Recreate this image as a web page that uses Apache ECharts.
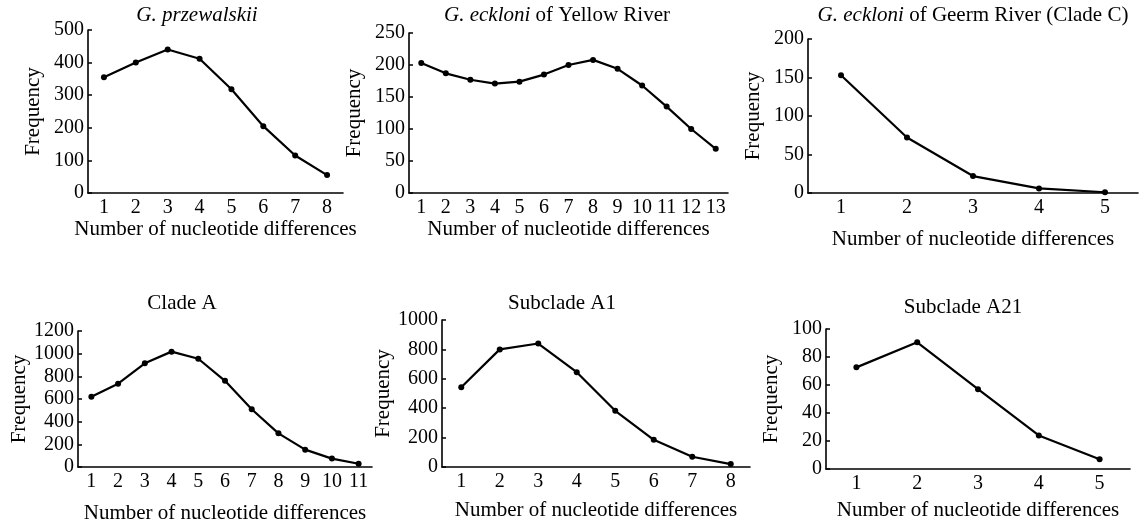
<!DOCTYPE html>
<html>
<head>
<meta charset="utf-8">
<script src="https://cdn.jsdelivr.net/npm/echarts@6/dist/echarts.min.js"></script>
<style>html,body{margin:0;padding:0;background:#fff}#c{width:1139px;height:528px}</style>
</head>
<body>
<div id="c"></div>
<script>
// ---- data ----
const cats1 = ['1','2','3','4','5','6','7','8'];
const vals1 = [355, 400, 440, 412, 318, 205, 115, 55];
const cats2 = ['1','2','3','4','5','6','7','8','9','10','11','12','13'];
const vals2 = [203, 187, 177, 171, 174, 185, 200, 208, 194, 168, 135, 100, 69];
const cats3 = ['1','2','3','4','5'];
const vals3 = [153, 72, 22, 6, 1];
const cats4 = ['1','2','3','4','5','6','7','8','9','10','11'];
const vals4 = [620, 735, 915, 1018, 955, 760, 510, 297, 153, 74, 29];
const cats5 = ['1','2','3','4','5','6','7','8'];
const vals5 = [543, 800, 840, 645, 382, 185, 70, 20];
const cats6 = ['1','2','3','4','5'];
const vals6 = [72.6, 90.5, 57, 24, 7];
const yMax = [500, 250, 200, 1200, 1000, 100];
const yStep = [100, 50, 50, 200, 200, 20];
const xName = 'Number of nucleotide differences';
const yName = 'Frequency';

const FONT = '"Liberation Serif", "Times New Roman", serif';
const panels = [
  {cats: cats1, vals: vals1, grid: {left: 88, top: 30, width: 255, height: 163}, xGap: 26},
  {cats: cats2, vals: vals2, grid: {left: 409, top: 33, width: 319, height: 160}, xGap: 26},
  {cats: cats3, vals: vals3, grid: {left: 808, top: 39, width: 330, height: 154}, xGap: 36},
  {cats: cats4, vals: vals4, grid: {left: 78, top: 331, width: 294, height: 136}, xGap: 36},
  {cats: cats5, vals: vals5, grid: {left: 442, top: 320, width: 308, height: 147}, xGap: 33},
  {cats: cats6, vals: vals6, grid: {left: 826, top: 329, width: 304, height: 140}, xGap: 31}
];
const titles = [
  {text: '{i|G. przewalskii}', left: 197, top: 5},
  {text: '{i|G. eckloni} of Yellow River', left: 557, top: 5},
  {text: '{i|G. eckloni} of Geerm River (Clade C)', left: 973, top: 5},
  {text: 'Clade A', left: 182, top: 293},
  {text: 'Subclade A1', left: 562, top: 293},
  {text: 'Subclade A21', left: 963, top: 297}
];

const axisLineStyle = {color: '#000', width: 1.6};
const option = {
  backgroundColor: '#fff',
  animation: false,
  title: titles.map(t => ({
    text: t.text, left: t.left, top: t.top, textAlign: 'center', padding: 0,
    textStyle: {fontFamily: FONT, fontSize: 21, fontWeight: 'normal', color: '#000',
      rich: {i: {fontFamily: FONT, fontSize: 21, fontStyle: 'italic', color: '#000'}}}
  })),
  grid: panels.map(p => Object.assign({containLabel: false}, p.grid)),
  xAxis: panels.map((p, i) => ({
    type: 'category', gridIndex: i, data: p.cats, boundaryGap: true,
    name: xName, nameLocation: 'middle', nameGap: p.xGap,
    nameTextStyle: {fontFamily: FONT, fontSize: 21, color: '#000'},
    axisLine: {lineStyle: axisLineStyle},
    axisTick: {inside: true, length: 4, lineStyle: {color: '#000', width: 1.5}},
    axisLabel: {interval: 0, margin: 5, fontFamily: FONT, fontSize: 20, color: '#000'},
    splitLine: {show: false}
  })),
  yAxis: panels.map((p, i) => ({
    type: 'value', gridIndex: i, min: 0, max: yMax[i], interval: yStep[i],
    name: yName, nameLocation: 'middle', nameGap: 44,
    nameTextStyle: {fontFamily: FONT, fontSize: 21, color: '#000'},
    axisLine: {show: true, lineStyle: axisLineStyle},
    axisTick: {show: true, inside: true, length: 4, lineStyle: {color: '#000', width: 1.5}},
    axisLabel: {margin: 4, fontFamily: FONT, fontSize: 20, color: '#000',
      formatter: v => String(v)},
    splitLine: {show: false}
  })),
  series: panels.map((p, i) => ({
    type: 'line', xAxisIndex: i, yAxisIndex: i, data: p.vals,
    symbol: 'circle', symbolSize: 6,
    lineStyle: {color: '#000', width: 2.2},
    itemStyle: {color: '#000'}
  }))
};
const chart = echarts.init(document.getElementById('c'), null, {renderer: 'canvas'});
chart.setOption(option);
</script>
</body>
</html>
